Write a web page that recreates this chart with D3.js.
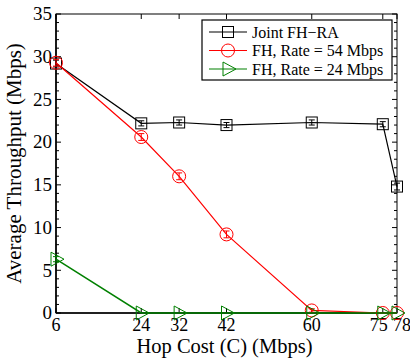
<!DOCTYPE html>
<html>
<head>
<meta charset="utf-8">
<script src="https://cdn.jsdelivr.net/npm/d3@7"></script>
<style>
  body { margin: 0; background: #fff; }
</style>
</head>
<body>
<div id="chart"></div>
<script>
// hop cost values on the x axis
const hop_cost = [6, 24, 32, 42, 60, 75, 78];
const y_ticks = [0, 5, 10, 15, 20, 25, 30, 35];

const joint_fhra = [29.2, 22.2, 22.3, 22.0, 22.3, 22.1, 14.8];
const fh_54 = [29.3, 20.6, 16.0, 9.2, 0.3, 0.0, 0.0];
const fh_24 = [6.3, 0.0, 0.0, 0.0, 0.0, 0.0, 0.0];
// small error half-widths seen inside markers
const joint_err = [0.4, 0.3, 0.3, 0.3, 0.3, 0.3, 0.4];
const fh54_err = [0.4, 0.4, 0.4, 0.4, 0.2, 0.0, 0.0];
const fh24_err = [0.3, 0.0, 0.0, 0.0, 0.0, 0.0, 0.0];

const series_names = ["Joint FH\u2212RA", "FH, Rate = 54 Mbps", "FH, Rate = 24 Mbps"];
const series_colors = ["#000000", "#ff0000", "#008000"];
const series_shapes = ["square", "circle", "triangle"];

const W = 410, H = 361;
const margin = {top: 14, right: 13, bottom: 48, left: 56};
const width = W - margin.left - margin.right,
      height = H - margin.top - margin.bottom;

const svg = d3.select("#chart").append("svg")
  .attr("width", W).attr("height", H)
  .attr("font-family", "'Liberation Serif', 'DejaVu Serif', serif");

const g = svg.append("g")
  .attr("transform", "translate(" + margin.left + "," + margin.top + ")");

const x = d3.scaleLinear().domain([6, 78]).range([0, width]);
const y = d3.scaleLinear().domain([0, 35]).range([height, 0]);

// frame
g.append("rect").attr("width", width).attr("height", height)
  .attr("fill", "none").attr("stroke", "#000").attr("stroke-width", 1);
g.append("line").attr("x1", 0).attr("x2", width).attr("y1", height).attr("y2", height)
  .attr("stroke", "#000").attr("stroke-width", 1.6);
g.append("line").attr("x1", 0).attr("x2", 0).attr("y1", 0).attr("y2", height)
  .attr("stroke", "#000").attr("stroke-width", 1.6);

// ticks (inward)
const minor = d3.range(0, 36, 1);
g.selectAll(".yl").data(minor).join("line")
  .attr("x1", 0).attr("x2", d => d % 5 === 0 ? 5 : 3)
  .attr("y1", d => y(d)).attr("y2", d => y(d))
  .attr("stroke", "#000");
g.selectAll(".yr").data(minor).join("line")
  .attr("x1", width).attr("x2", d => width - (d % 5 === 0 ? 5 : 3))
  .attr("y1", d => y(d)).attr("y2", d => y(d))
  .attr("stroke", "#000");
g.selectAll(".xt").data(hop_cost).join("line")
  .attr("x1", d => x(d)).attr("x2", d => x(d))
  .attr("y1", 0).attr("y2", 5).attr("stroke", "#000");
g.selectAll(".xb").data(hop_cost).join("line")
  .attr("x1", d => x(d)).attr("x2", d => x(d))
  .attr("y1", height).attr("y2", height - 5).attr("stroke", "#000");

// tick labels
g.selectAll(".ylab").data(y_ticks).join("text")
  .attr("x", -4).attr("y", d => y(d)).attr("dy", "0.33em")
  .attr("text-anchor", "end").attr("font-size", 19).text(d => d);
g.selectAll(".xlab").data(hop_cost).join("text")
  .attr("x", d => x(d) + (d === 75 ? -4 : d === 78 ? 5 : 0))
  .attr("y", height + 18)
  .attr("text-anchor", "middle").attr("font-size", 18).text(d => d);

// axis titles
g.append("text").attr("x", width / 2 - 2).attr("y", height + 40)
  .attr("text-anchor", "middle").attr("font-size", 20.5).text("Hop Cost (C) (Mbps)");
g.append("text").attr("transform", "translate(" + (-35) + "," + (height / 2) + ") rotate(-90)")
  .attr("text-anchor", "middle").attr("font-size", 21).text("Average Throughput (Mbps)");

function marker(sel, shape, color) {
  if (shape === "square") {
    sel.append("rect").attr("x", -5.5).attr("y", -5.5).attr("width", 11).attr("height", 11)
      .attr("fill", "none").attr("stroke", color).attr("stroke-width", 1);
  } else if (shape === "circle") {
    sel.append("circle").attr("r", 6.5)
      .attr("fill", "none").attr("stroke", color).attr("stroke-width", 1);
  } else {
    sel.append("path").attr("d", "M-5,-7L8,0L-5,7Z")
      .attr("fill", "none").attr("stroke", color).attr("stroke-width", 1);
  }
}

const all_series = [joint_fhra, fh_54, fh_24];
const all_err = [joint_err, fh54_err, fh24_err];

const line = d3.line().x((d, i) => x(hop_cost[i])).y(d => y(d));

all_series.forEach((vals, s) => {
  const col = series_colors[s];
  g.append("path").datum(vals).attr("d", line)
    .attr("fill", "none").attr("stroke", col).attr("stroke-width", s === 2 ? 1.5 : 1.2);
  const pts = g.selectAll(".p" + s).data(vals).join("g")
    .attr("transform", (d, i) => "translate(" + x(hop_cost[i]) + "," + y(d) + ")");
  // error bars
  pts.each(function(d, i) {
    const e = all_err[s][i];
    if (e <= 0) return;
    const sel = d3.select(this);
    const dy = y(0) - y(e);
    sel.append("line").attr("x1", 0).attr("x2", 0).attr("y1", -dy).attr("y2", dy)
      .attr("stroke", col);
    sel.append("line").attr("x1", -3).attr("x2", 3).attr("y1", -dy).attr("y2", -dy).attr("stroke", col);
    sel.append("line").attr("x1", -3).attr("x2", 3).attr("y1", dy).attr("y2", dy).attr("stroke", col);
  });
  pts.each(function() { marker(d3.select(this), series_shapes[s], col); });
});

// legend
const lg = g.append("g").attr("transform", "translate(" + (202 - margin.left) + "," + (20 - margin.top) + ")");
lg.append("rect").attr("width", 190).attr("height", 60)
  .attr("fill", "#fff").attr("stroke", "#000").attr("stroke-width", 1.2);
series_names.forEach((name, s) => {
  const ly = 12 + s * 18.5;
  lg.append("line").attr("x1", 7).attr("x2", 45).attr("y1", ly).attr("y2", ly)
    .attr("stroke", series_colors[s]).attr("stroke-width", 1.2);
  const m = lg.append("g").attr("transform", "translate(26," + ly + ")");
  marker(m, series_shapes[s], series_colors[s]);
  lg.append("text").attr("x", 50).attr("y", ly).attr("dy", "0.35em")
    .attr("font-size", 16).text(name);
});
</script>
</body>
</html>
